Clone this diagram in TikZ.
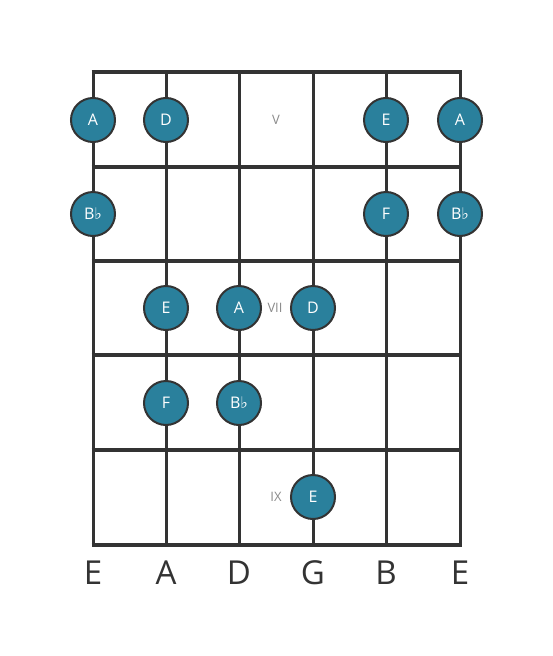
\documentclass[tikz,border=0pt]{standalone}
\usepackage{fontspec}
\setmainfont{Open Sans}
\newfontfamily\flatfont{DejaVu Sans}
\definecolor{dotfill}{HTML}{2A809C}
\definecolor{linecol}{HTML}{333333}
\definecolor{fretlab}{HTML}{8A8A8A}
\newcommand{\fl}{{\flatfont\char"266D}}
\begin{document}
\begin{tikzpicture}[x=1pt,y=-1pt,
  stringline/.style={draw=linecol,line width=3pt},
  fretline/.style={draw=linecol,line width=4.5pt},
  notedot/.style={circle,draw=linecol,line width=2pt,fill=dotfill,minimum size=44pt,inner sep=0pt,text=white,font=\fontsize{16}{16}\selectfont},
  fretnum/.style={text=fretlab,font=\fontsize{13}{13}\selectfont},
  strname/.style={text=linecol,font=\fontsize{33}{33}\selectfont}]
\useasboundingbox (0,0) rectangle (553,656);
% strings
\foreach \x [count=\i] in {93,166,239,313,386,460} {
  \coordinate (st\i) at (\x,72);
  \coordinate (sb\i) at (\x,545);
  \draw[stringline] (st\i) -- (sb\i);
}
% frets
\foreach \y [count=\j] in {72,167,261,355,450,545} {
  \coordinate (fl\j) at (91.5,\y);
  \coordinate (fr\j) at (461.5,\y);
  \draw[fretline] (fl\j) -- (fr\j);
}
% fret numbers
\node[fretnum] (fV) at (276,120) {V};
\node[fretnum] (fVII) at (275,308) {VII};
\node[fretnum] (fIX) at (276,497) {IX};
% notes
\node[notedot] (n1) at (93,120) {A};
\node[notedot] (n2) at (166,120) {D};
\node[notedot] (n3) at (386,120) {E};
\node[notedot] (n4) at (460,120) {A};
\node[notedot] (n5) at (93,214) {B\fl};
\node[notedot] (n6) at (386,214) {F};
\node[notedot] (n7) at (460,214) {B\fl};
\node[notedot] (n8) at (166,308) {E};
\node[notedot] (n9) at (239,308) {A};
\node[notedot] (n10) at (313,308) {D};
\node[notedot] (n11) at (166,403) {F};
\node[notedot] (n12) at (239,403) {B\fl};
\node[notedot] (n13) at (313,497) {E};
% string names
\node[strname] (s1) at (93,573) {E};
\node[strname] (s2) at (166,573) {A};
\node[strname] (s3) at (239,573) {D};
\node[strname] (s4) at (313,573) {G};
\node[strname] (s5) at (386,573) {B};
\node[strname] (s6) at (460,573) {E};
\end{tikzpicture}
\end{document}
